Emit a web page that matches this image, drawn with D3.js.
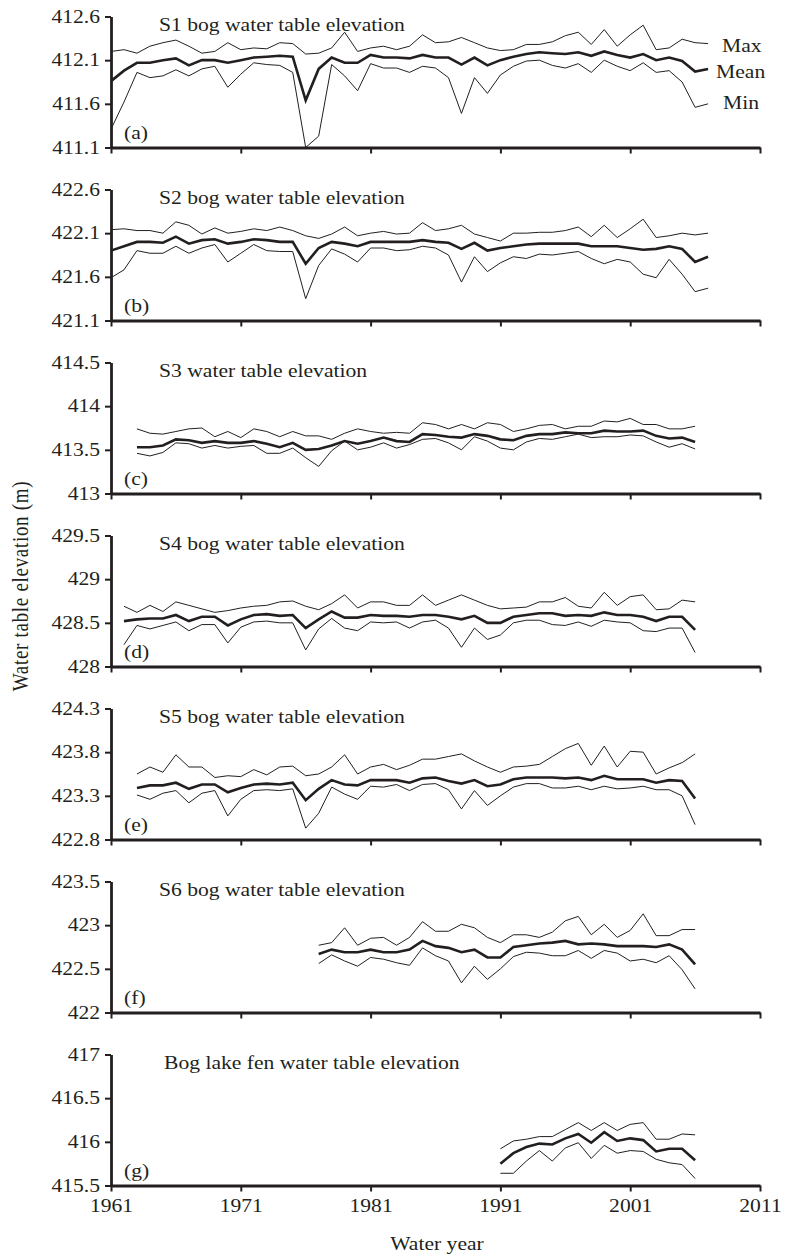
<!DOCTYPE html>
<html>
<head>
<meta charset="utf-8">
<script src="https://cdn.jsdelivr.net/npm/d3@7"></script>
<style>
  html, body { margin: 0; padding: 0; background: #fff; }
  svg { display: block; }
  text { font-family: "Liberation Serif", "DejaVu Serif", serif; fill: #231f20; }
</style>
</head>
<body>
<svg id="chart" width="789" height="1257"></svg>
<script>
// ---------- data ----------
const xTickYears = [1961, 1971, 1981, 1991, 2001, 2011];
const panelTitles = [
  "S1 bog water table elevation",
  "S2 bog water table elevation",
  "S3 water table elevation",
  "S4 bog water table elevation",
  "S5 bog water table elevation",
  "S6 bog water table elevation",
  "Bog lake fen water table elevation"
];
const panelLetters = ["(a)", "(b)", "(c)", "(d)", "(e)", "(f)", "(g)"];
const panelYTicks = [
  [411.1, 411.6, 412.1, 412.6],
  [421.1, 421.6, 422.1, 422.6],
  [413, 413.5, 414, 414.5],
  [428, 428.5, 429, 429.5],
  [422.8, 423.3, 423.8, 424.3],
  [422, 422.5, 423, 423.5],
  [415.5, 416, 416.5, 417]
];
const panelStartYears = [1961, 1961, 1963, 1962, 1963, 1977, 1991];
const seriesNames = ["Max", "Mean", "Min"];

const s1Max = [412.20,412.22,412.18,412.26,412.30,412.33,412.26,412.18,412.20,412.30,412.22,412.24,412.23,412.30,412.29,412.17,412.18,412.24,412.42,412.20,412.24,412.26,412.22,412.26,412.39,412.30,412.31,412.36,412.30,412.24,412.21,412.22,412.28,412.28,412.31,412.38,412.42,412.28,412.45,412.26,412.39,412.50,412.22,412.24,412.34,412.30,412.29];
const s1Mean = [411.86,411.98,412.07,412.07,412.10,412.12,412.04,412.10,412.10,412.07,412.10,412.13,412.14,412.15,412.14,411.64,412.00,412.13,412.07,412.07,412.16,412.13,412.13,412.12,412.16,412.13,412.13,412.05,412.13,412.04,412.10,412.14,412.17,412.19,412.18,412.17,412.19,412.15,412.20,412.16,412.13,412.17,412.10,412.13,412.09,411.97,412.00];
const s1Min = [411.31,411.62,411.96,411.90,411.92,411.99,411.92,412.00,412.03,411.79,411.94,412.07,412.05,412.04,411.96,411.10,411.23,412.05,411.92,411.75,412.06,412.01,412.01,411.96,412.03,412.01,411.90,411.49,411.90,411.72,411.93,412.03,412.09,412.10,412.04,412.01,412.06,411.96,412.10,412.03,411.98,412.07,411.96,411.98,411.85,411.56,411.60];

const s2Max = [422.14,422.15,422.13,422.13,422.10,422.23,422.19,422.09,422.16,422.10,422.12,422.15,422.13,422.17,422.13,422.07,422.04,422.09,422.17,422.07,422.10,422.12,422.09,422.10,422.22,422.13,422.15,422.19,422.09,422.05,422.01,422.10,422.10,422.11,422.11,422.13,422.17,422.06,422.19,422.05,422.15,422.26,422.05,422.07,422.10,422.08,422.10];
const s2Mean = [421.90,421.95,422.00,422.00,421.99,422.06,421.98,422.02,422.03,421.98,422.00,422.03,422.02,422.00,422.00,421.75,421.93,422.00,421.98,421.95,422.00,422.00,422.00,422.00,422.02,422.00,421.99,421.92,421.99,421.90,421.93,421.95,421.97,421.98,421.98,421.98,421.98,421.95,421.95,421.95,421.93,421.91,421.92,421.95,421.92,421.77,421.83];
const s2Min = [421.59,421.68,421.90,421.87,421.87,421.95,421.87,421.93,421.97,421.77,421.87,421.97,421.90,421.89,421.89,421.35,421.73,421.92,421.86,421.77,421.93,421.93,421.90,421.91,421.95,421.93,421.85,421.54,421.83,421.66,421.76,421.83,421.81,421.86,421.85,421.87,421.89,421.81,421.75,421.80,421.77,421.63,421.59,421.80,421.63,421.43,421.47];

const s3Max = [413.74,413.69,413.68,413.71,413.74,413.75,413.65,413.71,413.64,413.74,413.71,413.65,413.71,413.66,413.66,413.62,413.69,413.74,413.71,413.69,413.70,413.69,413.81,413.79,413.74,413.79,413.74,413.81,413.79,413.71,413.74,413.78,413.79,413.74,413.77,413.77,413.83,413.82,413.86,413.79,413.79,413.74,413.74,413.77];
const s3Mean = [413.53,413.53,413.55,413.62,413.61,413.58,413.60,413.58,413.58,413.60,413.57,413.53,413.58,413.50,413.51,413.55,413.60,413.57,413.60,413.64,413.60,413.59,413.68,413.67,413.65,413.64,413.68,413.66,413.62,413.61,413.66,413.68,413.68,413.70,413.69,413.69,413.72,413.71,413.71,413.72,413.66,413.63,413.64,413.59];
const s3Min = [413.46,413.43,413.47,413.58,413.57,413.52,413.55,413.52,413.54,413.55,413.46,413.46,413.52,413.41,413.31,413.49,413.60,413.50,413.53,413.58,413.52,413.56,413.62,413.63,413.58,413.50,413.65,413.60,413.52,413.50,413.59,413.63,413.62,413.65,413.68,413.64,413.65,413.65,413.67,413.66,413.59,413.53,413.57,413.51];

const s4Max = [428.69,428.62,428.70,428.63,428.74,428.70,428.66,428.62,428.64,428.67,428.69,428.70,428.74,428.75,428.69,428.65,428.72,428.82,428.67,428.74,428.74,428.70,428.70,428.82,428.70,428.76,428.82,428.76,428.70,428.66,428.67,428.68,428.74,428.74,428.79,428.69,428.67,428.85,428.70,428.80,428.82,428.65,428.66,428.76,428.74];
const s4Mean = [428.52,428.54,428.55,428.55,428.59,428.52,428.57,428.57,428.47,428.54,428.59,428.60,428.58,428.59,428.44,428.54,428.63,428.56,428.56,428.59,428.58,428.58,428.57,428.59,428.59,428.57,428.54,428.58,428.50,428.50,428.57,428.59,428.61,428.61,428.58,428.59,428.58,428.62,428.59,428.59,428.57,428.52,428.57,428.57,428.42];
const s4Min = [428.25,428.47,428.43,428.47,428.51,428.41,428.48,428.48,428.27,428.45,428.51,428.52,428.50,428.50,428.19,428.43,428.55,428.44,428.41,428.51,428.50,428.51,428.44,428.51,428.53,428.44,428.22,428.44,428.31,428.36,428.50,428.53,428.53,428.48,428.47,428.51,428.46,428.53,428.51,428.50,428.41,428.40,428.44,428.44,428.16];

const s5Max = [423.55,423.63,423.57,423.77,423.63,423.63,423.51,423.53,423.52,423.60,423.54,423.63,423.64,423.53,423.55,423.63,423.77,423.55,423.63,423.66,423.60,423.65,423.72,423.72,423.75,423.78,423.70,423.63,423.57,423.63,423.64,423.66,423.75,423.84,423.90,423.65,423.87,423.63,423.81,423.80,423.55,423.62,423.68,423.78];
const s5Mean = [423.39,423.42,423.42,423.45,423.38,423.43,423.43,423.34,423.39,423.43,423.44,423.43,423.45,423.25,423.38,423.48,423.43,423.42,423.48,423.48,423.48,423.45,423.50,423.51,423.47,423.44,423.48,423.41,423.43,423.49,423.51,423.51,423.51,423.50,423.51,423.48,423.53,423.49,423.49,423.49,423.45,423.48,423.47,423.27];
const s5Min = [423.31,423.26,423.33,423.36,423.22,423.33,423.36,423.07,423.26,423.36,423.37,423.36,423.38,422.93,423.10,423.40,423.32,423.26,423.41,423.40,423.43,423.36,423.43,423.44,423.37,423.15,423.36,423.19,423.30,423.40,423.44,423.44,423.39,423.39,423.41,423.37,423.41,423.38,423.39,423.41,423.37,423.37,423.30,422.97];

const s6Max = [422.77,422.80,422.97,422.77,422.85,422.86,422.77,422.86,423.04,422.93,422.93,423.01,422.97,422.86,422.80,422.89,422.89,422.86,422.92,423.05,423.10,422.89,423.01,422.86,422.94,423.13,422.88,422.88,422.95,422.95];
const s6Mean = [422.67,422.72,422.69,422.69,422.72,422.69,422.69,422.72,422.82,422.76,422.74,422.69,422.72,422.63,422.63,422.75,422.77,422.79,422.80,422.82,422.78,422.79,422.78,422.76,422.76,422.76,422.75,422.78,422.72,422.55];
const s6Min = [422.56,422.66,422.59,422.53,422.63,422.61,422.57,422.54,422.74,422.65,422.59,422.34,422.53,422.38,422.50,422.64,422.69,422.68,422.65,422.65,422.71,422.62,422.71,422.68,422.59,422.61,422.57,422.65,422.49,422.27];

const s7Max = [415.92,416.01,416.03,416.06,416.06,416.14,416.22,416.13,416.22,416.13,416.20,416.22,416.03,416.03,416.09,416.08];
const s7Mean = [415.75,415.87,415.94,415.98,415.97,416.04,416.09,415.99,416.11,416.01,416.04,416.02,415.89,415.92,415.92,415.79];
const s7Min = [415.64,415.64,415.78,415.90,415.78,415.93,415.99,415.81,415.96,415.87,415.90,415.89,415.80,415.76,415.74,415.58];

const panelSeries = [
  [s1Max, s1Mean, s1Min],
  [s2Max, s2Mean, s2Min],
  [s3Max, s3Mean, s3Min],
  [s4Max, s4Mean, s4Min],
  [s5Max, s5Mean, s5Min],
  [s6Max, s6Mean, s6Min],
  [s7Max, s7Mean, s7Min]
];

// ---------- layout ----------
const svg = d3.select("#chart");
const INK = "#231f20";
const SX = 1.2;          // horizontal stretch of the lettering
const FS = 18;           // base font size
const left = 111, right = 760;
const firstTop = 16.5, step = 173, panelH = 131;
const tickLen = 6, yPad = 5;

const x = d3.scaleLinear().domain([1961, 2011]).range([left, right]);

function label(parent, tx, ty, str, opts = {}) {
  return parent.append("text")
    .attr("transform", `translate(${tx},${ty}) scale(${SX},1)`)
    .attr("font-size", opts.size || FS)
    .attr("text-anchor", opts.anchor || "start")
    .text(str);
}

panelSeries.forEach((series, i) => {
  const top = firstTop + step * i;
  const bottom = top + panelH;
  const ticks = panelYTicks[i];
  const y = d3.scaleLinear().domain([ticks[0], ticks[ticks.length - 1]]).range([bottom, top]);
  const g = svg.append("g");

  // y axis
  const ya = g.append("g").attr("transform", `translate(${left},0)`)
    .call(d3.axisLeft(y).tickValues(ticks).tickSize(tickLen).tickSizeOuter(0).tickPadding(yPad).tickFormat(d => String(d)));
  ya.select(".domain").attr("stroke", INK).attr("stroke-width", 2.8);
  ya.selectAll(".tick line").attr("stroke", INK).attr("stroke-width", 2);
  ya.selectAll(".tick text")
    .attr("font-family", "Liberation Serif").attr("font-size", FS).attr("fill", INK)
    .attr("x", -(tickLen + yPad) / SX)
    .attr("transform", `scale(${SX},1)`);

  // x axis
  const isLast = i === panelSeries.length - 1;
  const xa = g.append("g").attr("transform", `translate(0,${bottom})`)
    .call(d3.axisBottom(x).tickValues(xTickYears).tickSize(tickLen).tickSizeOuter(0).tickPadding(8)
      .tickFormat(isLast ? d3.format("d") : ""));
  xa.select(".domain").attr("stroke", INK).attr("stroke-width", 2.8);
  xa.selectAll(".tick line").attr("stroke", INK).attr("stroke-width", 2);
  xa.selectAll(".tick text")
    .attr("font-family", "Liberation Serif").attr("font-size", FS).attr("fill", INK)
    .attr("transform", `scale(${SX},1)`);

  // lines
  const start = panelStartYears[i];
  series.forEach((vals, k) => {
    const line = d3.line().x((d, j) => x(start + j)).y(d => y(d));
    g.append("path").datum(vals)
      .attr("fill", "none")
      .attr("stroke", INK)
      .attr("stroke-width", seriesNames[k] === "Mean" ? 2.6 : 1)
      .attr("stroke-linejoin", "miter")
      .attr("d", line);
  });

  // title and panel letter
  label(g, i === 6 ? 164 : 159, top + 14, panelTitles[i]);
  label(g, 124, bottom - 9, panelLetters[i]);

  // series labels on first panel
  if (i === 0) {
    const endYear = start + series[0].length - 1;
    const offs = [[14, 8], [8, 9], [15, 5]];
    series.forEach((vals, k) => {
      label(g, x(endYear) + offs[k][0], y(vals[vals.length - 1]) + offs[k][1], seriesNames[k]);
    });
  }
});

// axis titles
svg.append("text")
  .attr("transform", `translate(28,586) scale(${SX},1) rotate(-90)`)
  .attr("text-anchor", "middle")
  .attr("font-size", 19)
  .attr("letter-spacing", 0.7)
  .text("Water table elevation (m)");

label(svg, 437, 1250, "Water year", { anchor: "middle" });
</script>
</body>
</html>
